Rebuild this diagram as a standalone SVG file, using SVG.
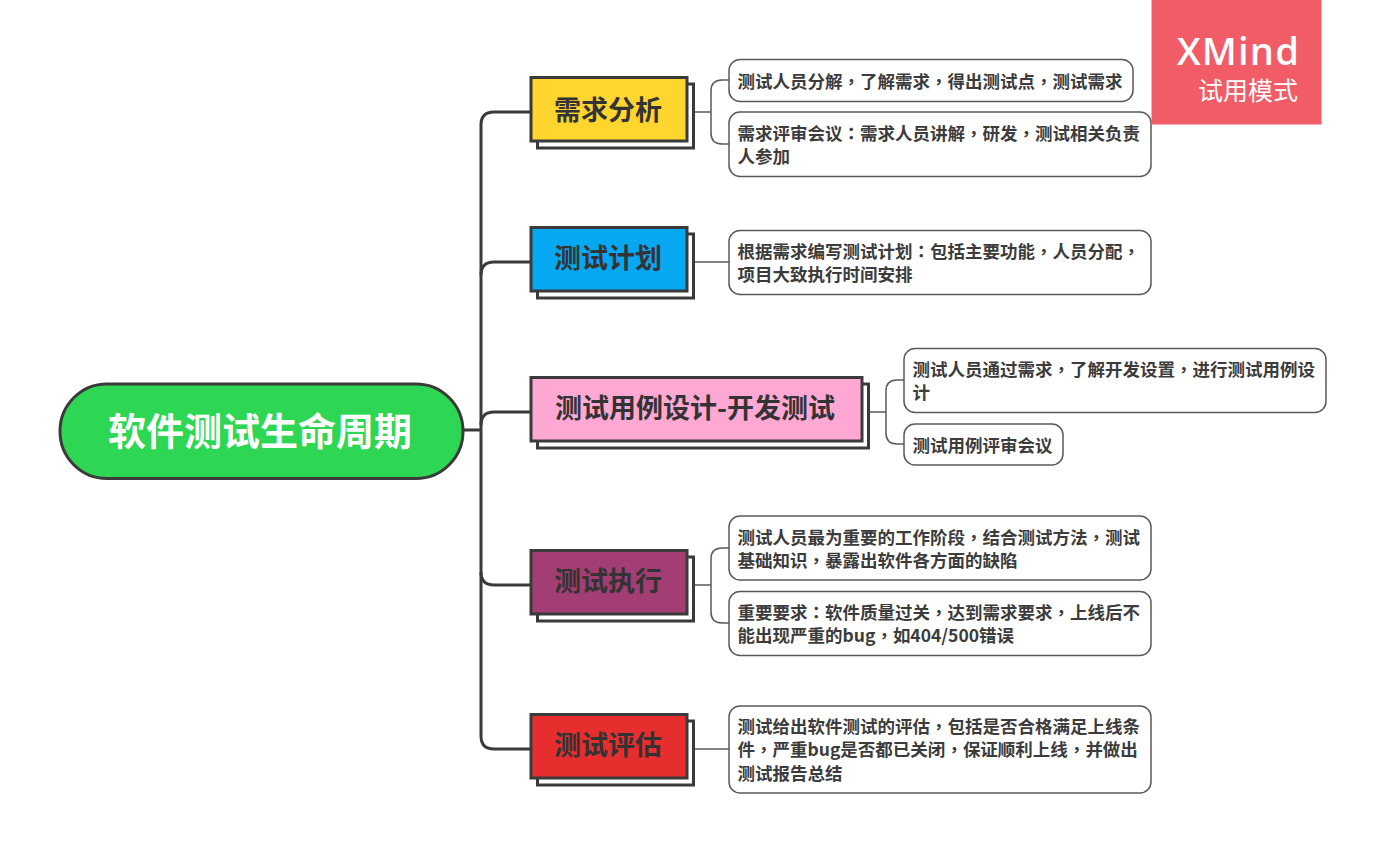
<svg xmlns="http://www.w3.org/2000/svg" width="1385" height="852" viewBox="0 0 1385 852">
<style>
text{font-family:"Noto Sans CJK SC","Noto Sans",sans-serif;font-weight:700;fill:#333}
.t{font-size:27px;text-anchor:middle}
.s{font-size:17.5px;fill:#3c3c3c}
.p{font-family:"Noto Sans CJK TC",sans-serif}
.sub{fill:#fff;stroke:#5a5a5a;stroke-width:1.5}
.box{stroke:#3a3a3a;stroke-width:3}
.shadow{fill:#fff;stroke:#3a3a3a;stroke-width:3}
.c1{fill:none;stroke:#3a3a3a;stroke-width:3}
.c2{fill:none;stroke:#5a5a5a;stroke-width:1.5}
</style>
<rect width="1385" height="852" fill="#fff"/>
<g id="connectors">
<path class="c1" d="M464 430H481"/>
<path class="c1" d="M530 112H494Q481 112 481 125V736Q481 749 494 749H530"/>
<path class="c1" d="M530 262H494Q481 262 481 275M530 412H494Q481 412 481 425M530 585H494Q481 585 481 572"/>
<path class="c2" d="M694 112H711M729 80H722Q711 80 711 91V133Q711 144 722 144H729"/>
<path class="c2" d="M694 262H729"/>
<path class="c2" d="M869 412H886M904 380H897Q886 380 886 391V433Q886 444 897 444H904"/>
<path class="c2" d="M694 585H711M729 548H722Q711 548 711 559V612Q711 623 722 623H729"/>
<path class="c2" d="M694 749H729"/>
</g>
<g id="root"><rect x="60" y="384" width="403" height="94.500" rx="47" fill="#2dd753" stroke="#3a3a3a" stroke-width="3"/><text x="260" y="445" text-anchor="middle" style="font-size:38px;fill:#fff">软件测试生命周期</text></g>
<g id="t1"><rect class="shadow" x="537.500" y="84" width="156" height="64"/><rect class="box" x="531" y="77.500" width="156" height="63.500" fill="#ffd52e"/><text class="t" x="608" y="120">需求分析</text></g>
<g id="t2"><rect class="shadow" x="537.500" y="234" width="156" height="64"/><rect class="box" x="531" y="227.500" width="156" height="63.500" fill="#07a8f2"/><text class="t" x="608" y="268">测试计划</text></g>
<g id="t3"><rect class="shadow" x="537.500" y="384" width="331" height="64"/><rect class="box" x="531" y="377.500" width="331" height="63.500" fill="#ffa8d4"/><text class="t" x="695" y="418">测试用例设计-开发测试</text></g>
<g id="t4"><rect class="shadow" x="537.500" y="557" width="156" height="64"/><rect class="box" x="531" y="550.500" width="156" height="63.500" fill="#a33e74"/><text class="t" x="608" y="591">测试执行</text></g>
<g id="t5"><rect class="shadow" x="537.500" y="721" width="156" height="64"/><rect class="box" x="531" y="714.500" width="156" height="63.500" fill="#e62e2e"/><text class="t" x="608" y="755">测试评估</text></g>
<g id="s1"><rect class="sub" x="729" y="59.500" width="404" height="42" rx="11"/><text class="s" x="737.500" y="87.500">测试人员分解<tspan class="p">，</tspan>了解需求<tspan class="p">，</tspan>得出测试点<tspan class="p">，</tspan>测试需求</text></g>
<g id="s2"><rect class="sub" x="729" y="112" width="422" height="64.500" rx="11"/><text class="s" x="737.500" y="139.500">需求评审会议<tspan class="p">：</tspan>需求人员讲解<tspan class="p">，</tspan>研发<tspan class="p">，</tspan>测试相关负责</text><text class="s" x="737.500" y="162.500">人参加</text></g>
<g id="s3"><rect class="sub" x="729" y="230.500" width="422" height="64" rx="11"/><text class="s" x="737.500" y="257.500">根据需求编写测试计划<tspan class="p">：</tspan>包括主要功能<tspan class="p">，</tspan>人员分配<tspan class="p">，</tspan></text><text class="s" x="737.500" y="280.500">项目大致执行时间安排</text></g>
<g id="s4"><rect class="sub" x="904" y="348.500" width="422" height="64" rx="11"/><text class="s" x="912.500" y="375.500">测试人员通过需求<tspan class="p">，</tspan>了解开发设置<tspan class="p">，</tspan>进行测试用例设</text><text class="s" x="912.500" y="399">计</text></g>
<g id="s5"><rect class="sub" x="904" y="424" width="159" height="41" rx="11"/><text class="s" x="912.500" y="451.500">测试用例评审会议</text></g>
<g id="s6"><rect class="sub" x="729" y="516" width="422" height="64" rx="11"/><text class="s" x="737.500" y="543.500">测试人员最为重要的工作阶段<tspan class="p">，</tspan>结合测试方法<tspan class="p">，</tspan>测试</text><text class="s" x="737.500" y="566.500">基础知识<tspan class="p">，</tspan>暴露出软件各方面的缺陷</text></g>
<g id="s7"><rect class="sub" x="729" y="591.500" width="422" height="64" rx="11"/><text class="s" x="737.500" y="618.500">重要要求<tspan class="p">：</tspan>软件质量过关<tspan class="p">，</tspan>达到需求要求<tspan class="p">，</tspan>上线后不</text><text class="s" x="737.500" y="641.500">能出现严重的bug<tspan class="p">，</tspan>如404/500错误</text></g>
<g id="s8"><rect class="sub" x="729" y="706" width="422" height="87" rx="11"/><text class="s" x="737.500" y="732.500">测试给出软件测试的评估<tspan class="p">，</tspan>包括是否合格满足上线条</text><text class="s" x="737.500" y="756">件<tspan class="p">，</tspan>严重bug是否都已关闭<tspan class="p">，</tspan>保证顺利上线<tspan class="p">，</tspan>并做出</text><text class="s" x="737.500" y="779.500">测试报告总结</text></g>
<g id="watermark"><rect x="1151.500" y="0" width="170" height="124.500" fill="#f25c66"/><text x="1300" y="65" text-anchor="end" style="font-family:'Open Sans','Noto Sans',sans-serif;font-size:38px;font-weight:600;letter-spacing:1.200px;fill:#fff">XMind</text><text x="1298" y="100" text-anchor="end" style="font-size:25px;font-weight:400;fill:#fff">试用模式</text></g>
</svg>
